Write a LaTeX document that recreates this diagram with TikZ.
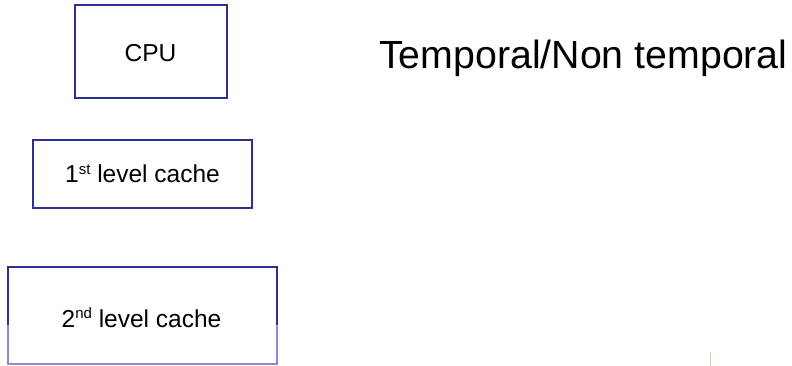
\documentclass[tikz,border=0pt]{standalone}
\usepackage{fontspec}
\setmainfont{Liberation Sans}
\definecolor{boxblue}{HTML}{2E3192}
\definecolor{fadeblue}{HTML}{8C8CCC}
\definecolor{marktan}{HTML}{D6CDB4}
\newcommand{\supr}[1]{\raisebox{0.33em}{\fontsize{15}{16}\selectfont #1}}
\begin{document}
\begin{tikzpicture}[x=1pt,y=-1pt,
  boxline/.style={draw=boxblue,line width=2pt},
  lbl/.style={inner sep=0pt,anchor=base,font=\fontsize{24.5}{27}\selectfont}]
\useasboundingbox (0,0) rectangle (792,366);
% CPU
\draw[boxline] (75,5) rectangle (227,98);
\node[lbl] (cpu) at (150.5,62) {CPU};
% 1st level cache
\draw[boxline] (33,140) rectangle (252,208);
\node[lbl] (l1) at (142.5,183) {1\supr{st} level cache};
% 2nd level cache
\draw[boxline] (8,325) -- (8,267) -- (277,267) -- (277,325);
\draw[draw=fadeblue,line width=2pt] (8,325) -- (8,364) -- (277,364) -- (277,325);
\node[lbl] (l2) at (141.5,327) {2\supr{nd} level cache};
% title
\node[inner sep=0pt,anchor=base west,font=\fontsize{39.3}{43}\selectfont] (title) at (379,69) {Temporal/Non temporal};
% small mark
\draw[draw=marktan,line width=1.5pt] (710.5,352) -- (710.5,366);
\end{tikzpicture}
\end{document}
